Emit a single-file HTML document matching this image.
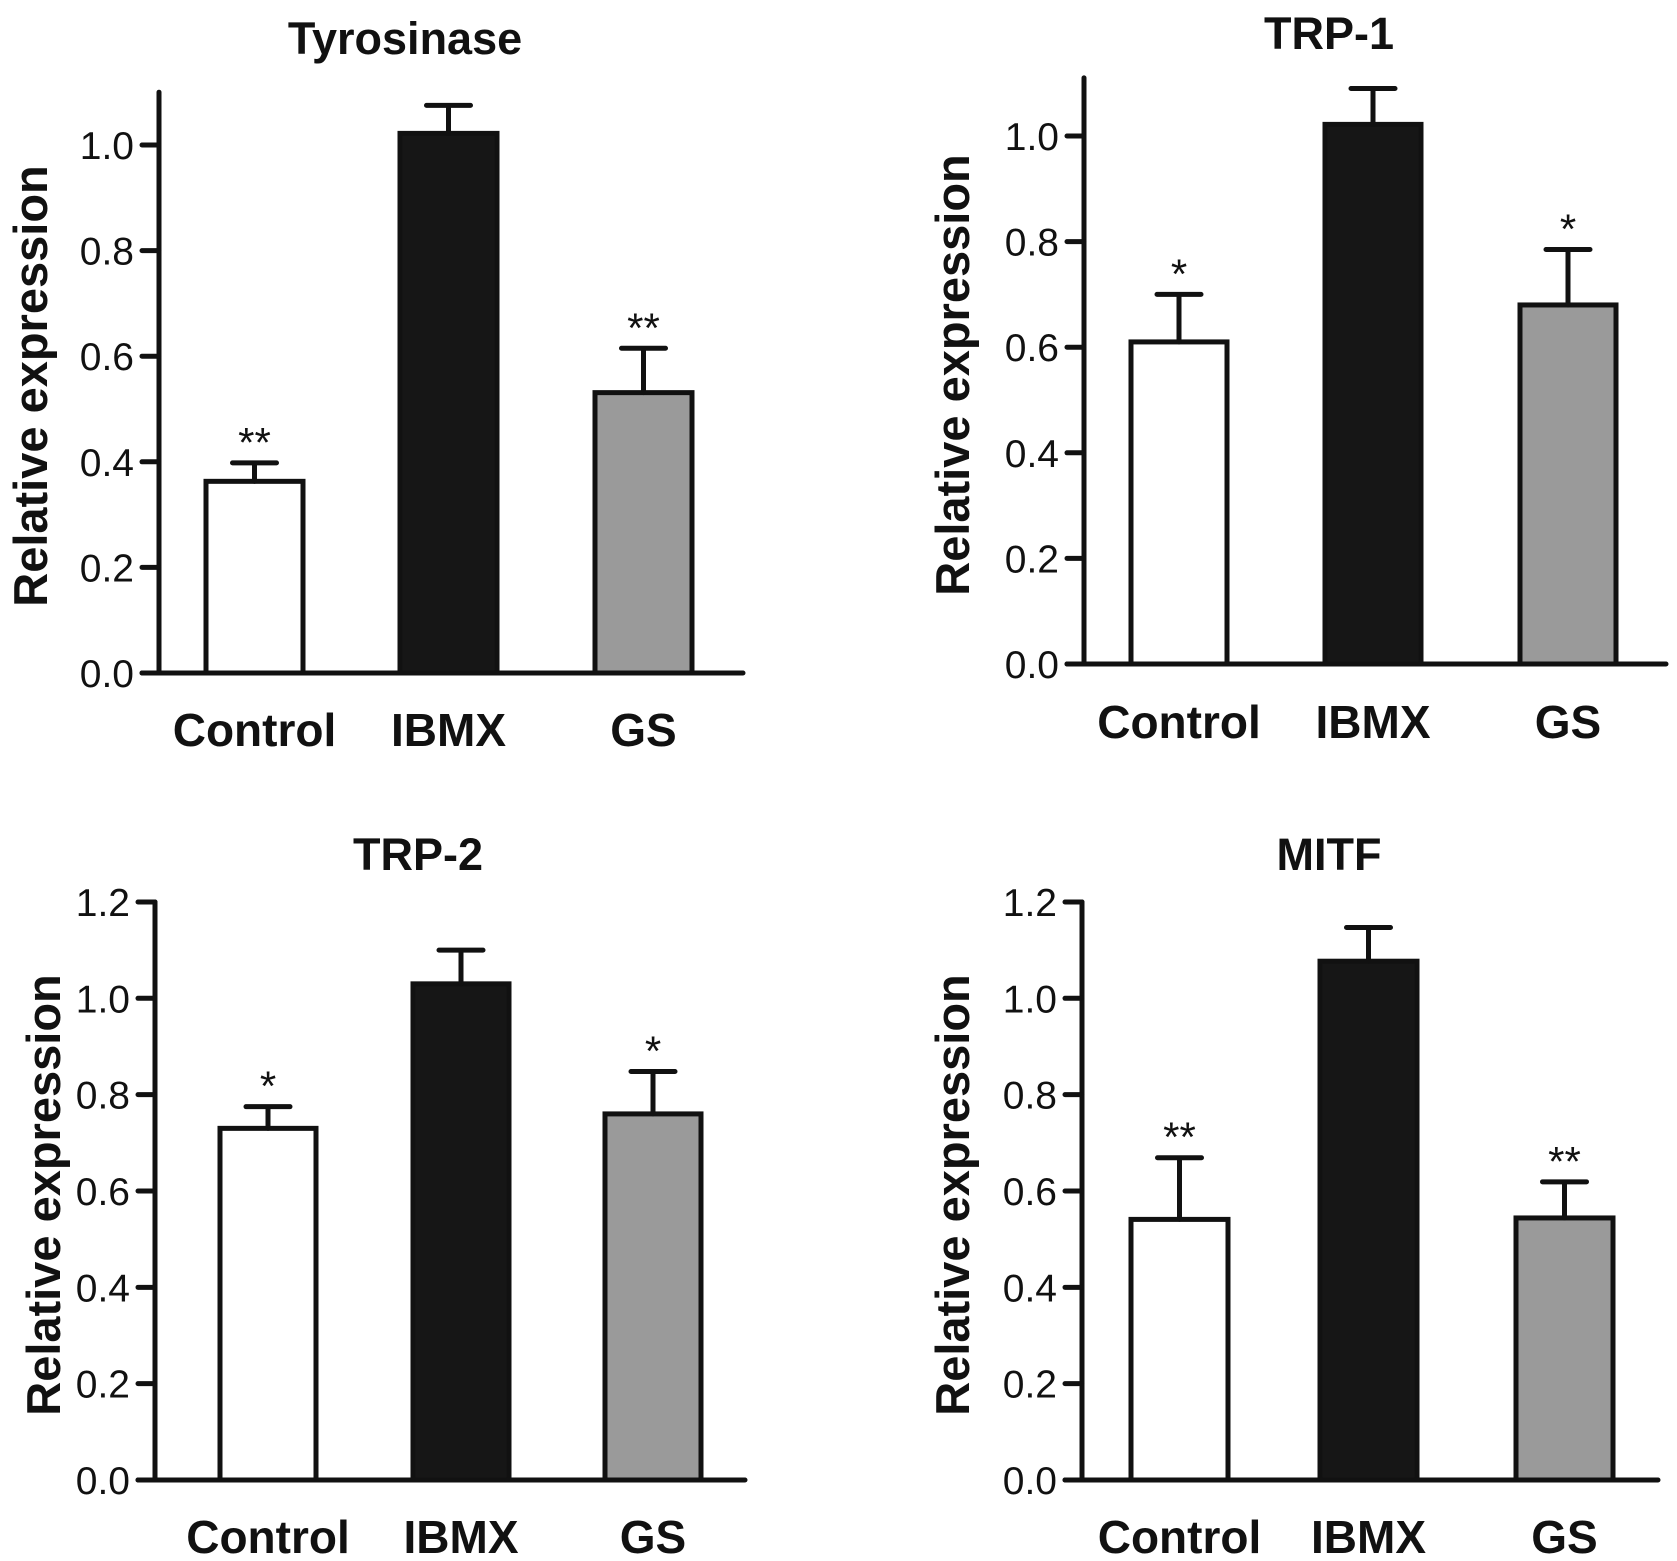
<!DOCTYPE html>
<html><head><meta charset="utf-8"><style>
html,body{margin:0;padding:0;background:#fff}
svg{display:block}
text{font-family:"Liberation Sans",Arial,sans-serif;fill:#111}
</style></head><body>
<svg id="fig" width="1677" height="1561" viewBox="0 0 1677 1561" xmlns="http://www.w3.org/2000/svg"></svg>
<script>
const categories = ["Control","IBMX","GS"];
const titles = ["Tyrosinase","TRP-1","TRP-2","MITF"];
const tyrValues = [0.363, 1.022, 0.531];
const tyrErrors = [0.398, 1.075, 0.615];
const tyrStars = ["**","","**"];
const trp1Values = [0.61, 1.022, 0.68];
const trp1Errors = [0.70, 1.09, 0.785];
const trp1Stars = ["*","","*"];
const trp2Values = [0.73, 1.03, 0.76];
const trp2Errors = [0.775, 1.10, 0.848];
const trp2Stars = ["*","","*"];
const mitfValues = [0.541, 1.077, 0.544];
const mitfErrors = [0.669, 1.147, 0.619];
const mitfStars = ["**","","**"];
const ticksTop = [0, 0.2, 0.4, 0.6, 0.8, 1.0];
const ticksBottom = [0, 0.2, 0.4, 0.6, 0.8, 1.0, 1.2];
const fills = ["#ffffff","#161616","#9a9a9a"];

const NS = "http://www.w3.org/2000/svg";
const svg = document.getElementById('fig');
function el(tag, attrs, parent){
  const e = document.createElementNS(NS, tag);
  for (const k in attrs) e.setAttribute(k, attrs[k]);
  (parent||svg).appendChild(e);
  return e;
}
const panels = [
  {title:titles[0], vals:tyrValues, errs:tyrErrors, stars:tyrStars, ticks:ticksTop, ymax:1.1, ax:159, base:673, unit:528, right:743, bars:[206,400,595], bw:97, tx:405, ty:54, ytx:30, yty:386, xly:746},
  {title:titles[1], vals:trp1Values, errs:trp1Errors, stars:trp1Stars, ticks:ticksTop, ymax:1.11, ax:1084, base:664, unit:528, right:1666, bars:[1131,1325,1520], bw:96, tx:1329, ty:49, ytx:952, yty:375, xly:738},
  {title:titles[2], vals:trp2Values, errs:trp2Errors, stars:trp2Stars, ticks:ticksBottom, ymax:1.2, ax:155, base:1480, unit:481.7, right:745, bars:[220,413,605], bw:96, tx:418, ty:870, ytx:43, yty:1195, xly:1553},
  {title:titles[3], vals:mitfValues, errs:mitfErrors, stars:mitfStars, ticks:ticksBottom, ymax:1.2, ax:1082, base:1480, unit:481.7, right:1658, bars:[1131,1320,1516], bw:97, tx:1329, ty:870, ytx:952, yty:1195, xly:1553}
];
panels.forEach((p, pi) => {
  const g = el('g', {});
  
  
  const y = v => p.base - v * p.unit;
  const t = el('text', {x:p.tx, y:p.ty, 'text-anchor':'middle', 'font-size':45, 'font-weight':'bold'}, g);
  t.textContent = p.title;
  
  
  const yt = el('text', {x:0, y:0, 'text-anchor':'middle', 'font-size':47, 'font-weight':'bold', transform:`translate(${p.ytx+17},${p.yty}) rotate(-90)`}, g);
  yt.textContent = 'Relative expression';
  
  
  p.vals.forEach((v, i) => {
    const x0 = p.bars[i];
    const b = el('rect', {x:x0, y:y(v), width:p.bw, height:y(0)-y(v), fill:fills[i], stroke:'#111', 'stroke-width':5}, g);
    
    
    const cx = x0 + p.bw/2;
    const e = el('path', {d:`M${cx},${y(v)} V${y(p.errs[i])} M${cx-22},${y(p.errs[i])} H${cx+22}`, stroke:'#111', 'stroke-width':5, fill:'none', 'stroke-linecap':'round'}, g);
    
    
    if (p.stars[i]) {
      const s = el('text', {x:cx, y:y(p.errs[i]) - 6, 'text-anchor':'middle', 'font-size':42}, g);
      s.textContent = p.stars[i];
      
      
    }
    const xl = el('text', {x:cx, y:p.xly, 'text-anchor':'middle', 'font-size':46, 'font-weight':'bold'}, g);
    xl.textContent = categories[i];
    
    
  });
  const ya = el('path', {d:`M${p.ax},${y(p.ymax)} V${p.base}`, stroke:'#111', 'stroke-width':5, 'stroke-linecap':'round'}, g);
  
  
  const xa = el('path', {d:`M${p.ax-17},${p.base} H${p.right}`, stroke:'#111', 'stroke-width':5, 'stroke-linecap':'round'}, g);
  
  
  p.ticks.forEach(tv => {
    const tk = el('path', {d:`M${p.ax-17},${y(tv)} H${p.ax}`, stroke:'#111', 'stroke-width':5, 'stroke-linecap':'round'}, g);
    
    
    const tl = el('text', {x:p.ax-25, y:y(tv)+14, 'text-anchor':'end', 'font-size':39}, g);
    tl.textContent = tv.toFixed(1);
    
    
  });
});
</script>
</body></html>
